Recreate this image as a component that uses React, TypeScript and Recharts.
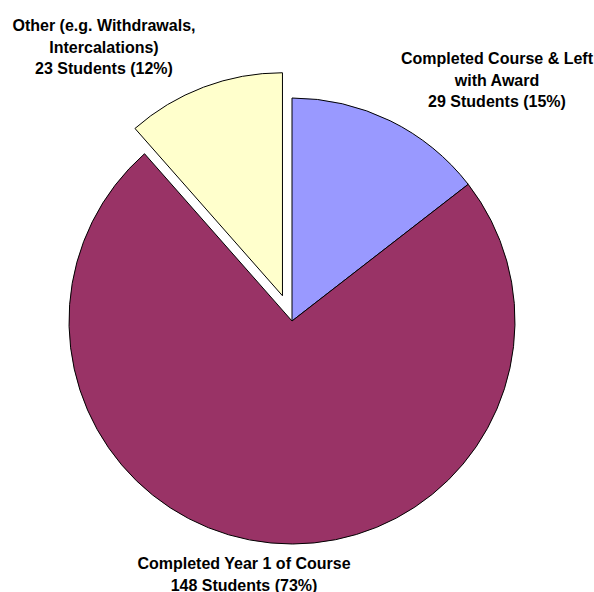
import { PieChart, Pie, Cell, Sector } from 'recharts';

const categories = ['Completed Course & Left with Award', 'Completed Year 1 of Course', 'Other (e.g. Withdrawals, Intercalations)'];
const students = [29, 148, 23];
const percentLabels = ['15%', '73%', '12%'];
const labelLines = [
  ['Completed Course & Left', 'with Award', '29 Students (15%)'],
  ['Completed Year 1 of Course', '148 Students (73%)'],
  ['Other (e.g. Withdrawals,', 'Intercalations)', '23 Students (12%)'],
];
const colors = ['#9999FF', '#993366', '#FFFFCC'];
const exploded = [0, 0, 27];

const data = categories.map((name, i) => ({ name, value: students[i], pct: percentLabels[i], idx: i }));

// label anchor relative to pie centre (first line baseline)
const labelPos = [
  { dx: 205, dy: -257 },
  { dx: -48, dy: 248 },
  { dx: -188, dy: -290 },
];

const RADIAN = Math.PI / 180;

const renderShape = (props: any) => {
  const i = props.payload?.idx ?? props.index ?? 0;
  const off = exploded[i] || 0;
  const dx = off * Math.cos(-props.midAngle * RADIAN);
  const dy = off * Math.sin(-props.midAngle * RADIAN);
  return <Sector {...props} cx={props.cx + dx} cy={props.cy + dy} />;
};

const renderLabel = (props: any) => {
  const i = props.payload?.idx ?? props.index;
  const p = labelPos[i];
  return (
    <text
      x={props.cx + p.dx}
      y={props.cy + p.dy}
      textAnchor="middle"
      fontFamily="'Liberation Sans', Arial, sans-serif"
      fontWeight="bold"
      fontSize={16}
      fill="#000"
    >
      {labelLines[i].map((l, k) => (
        <tspan key={k} x={props.cx + p.dx} dy={k === 0 ? 0 : 21.5}>{l}</tspan>
      ))}
    </text>
  );
};

export default function App() {
  return (
    <div style={{ position: 'absolute', left: 0, top: 0, width: 594, height: 592, background: '#fff' }}>
      <PieChart width={594} height={592} margin={{ top: 0, right: 0, bottom: 0, left: 0 }}>
        <Pie
          data={data}
          dataKey="value"
          cx={292}
          cy={321}
          outerRadius={223}
          startAngle={90}
          endAngle={-270}
          stroke="#000"
          strokeWidth={1}
          shape={renderShape}
          label={renderLabel}
          labelLine={false}
          isAnimationActive={false}
        >
          {data.map((d, i) => (
            <Cell key={d.name} fill={colors[i]} />
          ))}
        </Pie>
      </PieChart>
    </div>
  );
}
